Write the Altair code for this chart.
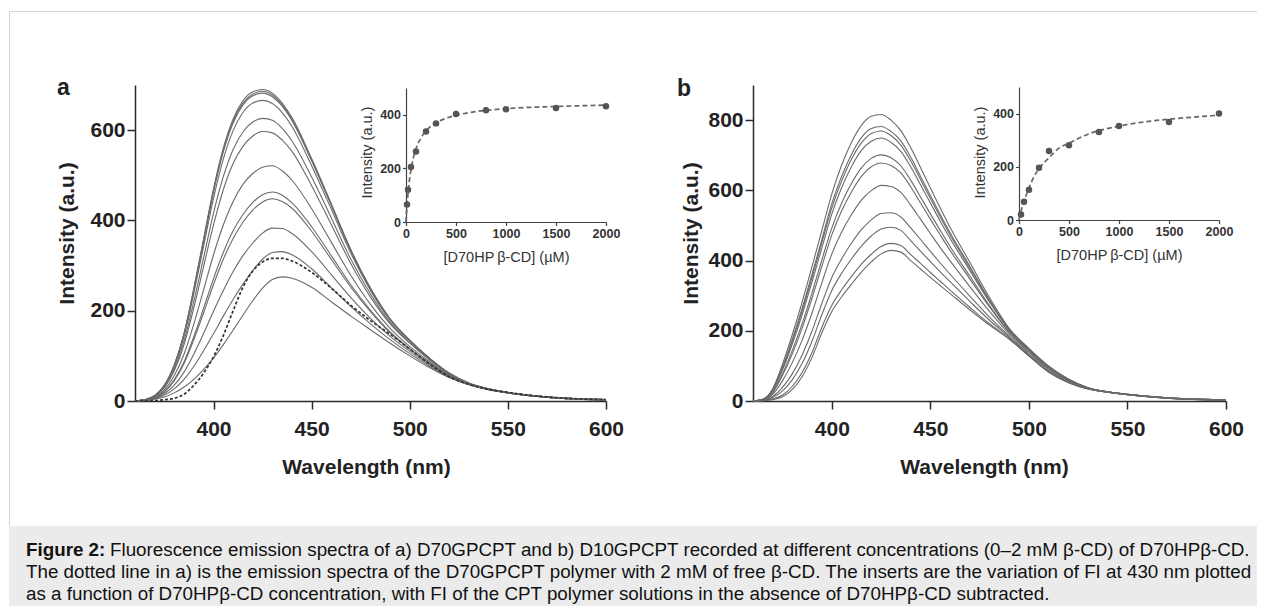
import altair as alt
import pandas as pd

FONT = "Liberation Sans"

# ---------------- panel a : emission spectra (D70GPCPT) ----------------
WL_A = [360, 365, 370, 375, 380, 385, 390, 395, 400, 405, 410, 415, 420, 425, 430,
        435, 440, 450, 460, 470, 480, 490, 500, 510, 520, 530, 540, 550, 565, 580, 600]
A_690 = [0, 3, 12, 35, 80, 150, 250, 360, 470, 560, 625, 665, 685, 690, 682, 660, 628, 537, 437, 335, 250, 182, 135, 95, 62, 40, 27, 19, 11, 6, 3]
A_686 = [0, 3, 12, 35, 79, 149, 248, 357, 466, 556, 620, 660, 680, 686, 678, 656, 624, 534, 435, 334, 249, 181, 135, 95, 62, 40, 27, 19, 11, 6, 3]
A_682 = [0, 3, 12, 35, 79, 148, 246, 354, 463, 552, 616, 656, 676, 682, 674, 653, 621, 532, 433, 332, 248, 181, 134, 95, 62, 40, 27, 19, 11, 6, 3]
A_667 = [0, 3, 12, 34, 77, 143, 239, 344, 449, 536, 599, 639, 660, 666, 659, 639, 608, 521, 425, 327, 245, 179, 133, 94, 61, 40, 27, 19, 11, 6, 3]
A_630 = [0, 3, 11, 31, 71, 133, 221, 318, 416, 497, 557, 596, 618, 626, 622, 604, 576, 496, 406, 314, 237, 174, 130, 92, 61, 39, 27, 19, 11, 6, 3]
A_602 = [0, 3, 10, 30, 67, 125, 207, 299, 390, 468, 526, 564, 587, 597, 594, 578, 553, 477, 391, 304, 230, 171, 128, 91, 60, 39, 27, 19, 11, 6, 3]
A_528 = [0, 2, 9, 25, 56, 104, 171, 247, 324, 390, 442, 480, 504, 518, 521, 510, 489, 426, 352, 278, 214, 161, 121, 87, 58, 38, 26, 19, 11, 6, 3]
A_470 = [0, 2, 8, 21, 47, 87, 143, 206, 271, 329, 377, 413, 440, 457, 463, 456, 439, 386, 322, 257, 201, 153, 116, 84, 57, 38, 26, 18, 10, 5, 2]
A_455 = [0, 2, 7, 20, 45, 83, 136, 196, 258, 314, 360, 396, 423, 441, 448, 442, 427, 376, 314, 252, 198, 151, 115, 83, 56, 38, 26, 18, 10, 5, 2]
A_390 = [0, 2, 6, 16, 35, 64, 104, 150, 199, 245, 287, 322, 350, 372, 383, 382, 371, 331, 280, 229, 183, 143, 110, 80, 55, 37, 25, 18, 10, 5, 2]
A_335 = [0, 1, 5, 13, 27, 48, 77, 112, 149, 188, 225, 259, 289, 314, 329, 331, 324, 293, 251, 209, 171, 136, 105, 77, 53, 37, 25, 18, 10, 5, 2]
A_275 = [0, 1, 4, 9, 18, 31, 48, 70, 95, 125, 157, 190, 222, 250, 269, 275, 272, 252, 220, 188, 158, 128, 100, 74, 52, 36, 25, 18, 10, 5, 2]
A_FREE_CD = [0, 0, 1, 3, 6, 15, 35, 62, 98, 145, 200, 252, 288, 308, 316, 316, 310, 285, 250, 212, 178, 148, 115, 82, 54, 37, 26, 19, 11, 6, 3]

# ---------------- panel b : emission spectra (D10GPCPT) ----------------
WL_B = [360, 365, 370, 375, 380, 385, 390, 395, 400, 405, 410, 415, 420, 425, 430, 435,
        440, 445, 450, 455, 460, 470, 480, 490, 500, 510, 520, 530, 540, 550, 565, 580, 600]
B_817 = [0, 5, 35, 105, 190, 283, 384, 487, 590, 672, 737, 785, 811, 816, 800, 770, 722, 665, 607, 550, 495, 395, 295, 207, 150, 100, 63, 38, 26, 19, 11, 6, 3]
B_784 = [0, 5, 32, 97, 177, 265, 362, 462, 562, 640, 703, 750, 776, 782, 768, 741, 695, 640, 585, 531, 479, 384, 288, 204, 148, 98, 62, 38, 26, 19, 11, 6, 3]
B_771 = [0, 5, 31, 94, 171, 258, 353, 452, 550, 627, 689, 735, 762, 769, 756, 729, 684, 631, 577, 524, 473, 379, 286, 203, 147, 98, 62, 38, 26, 19, 11, 6, 3]
B_751 = [0, 4, 30, 89, 163, 247, 340, 437, 533, 608, 668, 714, 740, 749, 737, 711, 667, 616, 564, 512, 463, 372, 282, 202, 146, 97, 61, 37, 26, 19, 11, 6, 3]
B_705 = [0, 4, 26, 78, 145, 221, 309, 403, 493, 564, 620, 664, 691, 701, 693, 670, 629, 581, 533, 486, 440, 356, 272, 198, 144, 95, 60, 37, 26, 19, 11, 6, 3]
B_682 = [0, 4, 24, 73, 135, 209, 294, 385, 473, 542, 596, 640, 667, 678, 671, 650, 610, 564, 518, 473, 429, 348, 268, 196, 142, 94, 59, 37, 26, 19, 11, 6, 3]
B_619 = [0, 3, 19, 58, 110, 174, 252, 338, 419, 481, 531, 572, 599, 614, 611, 594, 558, 518, 477, 437, 399, 326, 255, 191, 139, 91, 57, 36, 25, 18, 10, 5, 2]
B_541 = [0, 2, 13, 39, 78, 132, 200, 279, 352, 405, 450, 488, 516, 534, 536, 524, 493, 460, 426, 393, 361, 299, 239, 185, 134, 87, 55, 35, 25, 18, 10, 5, 2]
B_498 = [0, 2, 10, 29, 61, 108, 171, 247, 315, 364, 405, 441, 470, 490, 495, 486, 457, 427, 397, 368, 340, 284, 230, 182, 132, 85, 54, 35, 25, 18, 10, 5, 2]
B_450 = [0, 1, 6, 17, 42, 82, 139, 211, 273, 317, 355, 390, 418, 440, 449, 443, 417, 392, 366, 341, 316, 267, 220, 178, 129, 83, 53, 34, 25, 18, 10, 5, 2]
B_429 = [0, 1, 4, 12, 33, 70, 125, 195, 255, 297, 333, 367, 396, 419, 429, 424, 400, 376, 352, 329, 306, 260, 216, 176, 128, 82, 52, 34, 25, 18, 10, 5, 2]

# ---------------- insets : FI at 430 nm vs [D70HPb-CD] ----------------
INSET_A_CONC = [10, 20, 50, 100, 200, 300, 500, 800, 1000, 1500, 2000]
INSET_A_FI = [65, 120, 205, 263, 338, 368, 403, 417, 421, 425, 432]
INSET_A_FIT_CONC = [0, 10, 25, 50, 75, 100, 150, 200, 300, 400, 500, 700, 1000, 1500, 2000]
INSET_A_FIT_FI = [0, 60, 125, 196, 241, 273, 314, 340, 370, 387, 398, 412, 423, 431, 436]

INSET_B_CONC = [20, 50, 100, 200, 300, 500, 800, 1000, 1500, 2000]
INSET_B_FI = [21, 69, 114, 196, 259, 281, 331, 353, 368, 400]
INSET_B_FIT_CONC = [0, 20, 50, 100, 150, 200, 300, 400, 500, 700, 1000, 1300, 1500, 1750, 2000]
INSET_B_FIT_FI = [0, 32, 70, 120, 163, 193, 234, 270, 289, 324, 353, 371, 379, 387, 394]

CAPTION_BOLD = "Figure 2:"
CAPTION_1 = ("Fluorescence emission spectra of a) D70GPCPT and b) D10GPCPT recorded at different "
             "concentrations (0\u20132 mM \u03b2-CD) of D70HP\u03b2-CD.")
CAPTION_2 = ("The dotted line in a) is the emission spectra of the D70GPCPT polymer with 2 mM of free "
             "\u03b2-CD. The inserts are the variation of FI at 430 nm plotted")
CAPTION_3 = ("as a function of D70HP\u03b2-CD concentration, with FI of the CPT polymer solutions in the "
             "absence of D70HP\u03b2-CD subtracted.")


def long_df(wl, curves):
    rows = []
    for name, vals in curves.items():
        for w, v in zip(wl, vals):
            rows.append({"wl": w, "v": v, "curve": name})
    return pd.DataFrame(rows)


df_a = long_df(WL_A, {"690": A_690, "686": A_686, "682": A_682, "667": A_667, "630": A_630,
                      "602": A_602, "528": A_528, "470": A_470, "455": A_455, "390": A_390,
                      "335": A_335, "275": A_275})
df_a_dot = pd.DataFrame({"wl": WL_A, "v": A_FREE_CD})
df_b = long_df(WL_B, {"817": B_817, "784": B_784, "771": B_771, "751": B_751, "705": B_705,
                      "682": B_682, "619": B_619, "541": B_541, "498": B_498, "450": B_450,
                      "429": B_429})
df_ia = pd.DataFrame({"c": INSET_A_CONC, "i": INSET_A_FI})
df_ia_fit = pd.DataFrame({"c": INSET_A_FIT_CONC, "i": INSET_A_FIT_FI})
df_ib = pd.DataFrame({"c": INSET_B_CONC, "i": INSET_B_FI})
df_ib_fit = pd.DataFrame({"c": INSET_B_FIT_CONC, "i": INSET_B_FIT_FI})
ONE = pd.DataFrame({"k": [0]})

W, H = 1249, 598
AX = "#2b2b2b"


def main_panel(df, df_dot, xr, yr, ymax, yvals, xtitle_x, ytitle_x):
    xs = alt.Scale(domain=[360, 600], range=xr, nice=False, zero=False)
    ys = alt.Scale(domain=[0, ymax], range=yr, nice=False, zero=False)
    xaxis = alt.Axis(orient="bottom", offset=yr[0] - H, values=[400, 450, 500, 550, 600], format="d",
                     title="Wavelength (nm)", titleFont=FONT, titleFontSize=21, titleFontWeight="bold",
                     titleColor="#222", titleX=xtitle_x, titleY=72, titleBaseline="alphabetic",
                     labelFont=FONT, labelFontSize=21, labelFontWeight="bold", labelColor="#222",
                     labelPadding=9, labelFlush=False, labelOverlap=False,
                     tickSize=8, tickWidth=1.5, tickColor=AX, domainColor=AX, domainWidth=1.5, grid=False)
    yaxis = alt.Axis(orient="left", offset=-xr[0], values=yvals, format="d",
                     title="Intensity (a.u.)", titleFont=FONT, titleFontSize=21, titleFontWeight="bold",
                     titleColor="#222", titleX=ytitle_x, titleY=225, titleBaseline="alphabetic",
                     titleAngle=270,
                     labelFont=FONT, labelFontSize=21, labelFontWeight="bold", labelColor="#222",
                     labelPadding=2, labelOverlap=False,
                     tickSize=8, tickWidth=1.5, tickColor=AX, domainColor=AX, domainWidth=1.5, grid=False)
    lines = alt.Chart(df).mark_line(interpolate="monotone", color="#6a6a6a", strokeWidth=1.1).encode(
        x=alt.X("wl:Q", scale=xs, axis=xaxis),
        y=alt.Y("v:Q", scale=ys, axis=yaxis),
        detail="curve:N",
    )
    layers = [lines]
    if df_dot is not None:
        dot = alt.Chart(df_dot).mark_line(interpolate="monotone", color="#333", strokeWidth=1.7,
                                          strokeDash=[3, 2]).encode(
            x=alt.X("wl:Q", scale=xs, axis=xaxis),
            y=alt.Y("v:Q", scale=ys, axis=yaxis),
        )
        layers.append(dot)
    return alt.layer(*layers)


def inset(df_pts, df_fit, xr, yr):
    xs = alt.Scale(domain=[0, 2000], range=xr, nice=False, zero=False)
    ys = alt.Scale(domain=[0, 500], range=yr, nice=False, zero=False)
    xaxis = alt.Axis(orient="bottom", offset=yr[0] - H, values=[0, 500, 1000, 1500, 2000], format="d",
                     title="[D70HP\u2009\u03b2-CD] (\u00b5M)", titleFont=FONT, titleFontSize=14.5,
                     titleFontWeight="normal", titleColor="#333", titleY=39, titleBaseline="alphabetic",
                     labelFont=FONT, labelFontSize=12.5, labelFontWeight="bold", labelColor="#333",
                     labelPadding=2, labelFlush=False, labelOverlap=False,
                     tickSize=3.5, tickWidth=1.2, tickColor="#444", domainColor="#444", domainWidth=1.2,
                     grid=False)
    yaxis = alt.Axis(orient="left", offset=-xr[0], values=[0, 200, 400], format="d",
                     title="Intensity (a.u.)", titleFont=FONT, titleFontSize=14.5, titleFontWeight="normal",
                     titleColor="#333", titleX=-35, titleY=144, titleBaseline="alphabetic", titleAngle=270,
                     labelFont=FONT, labelFontSize=12.5, labelFontWeight="bold", labelColor="#333",
                     labelPadding=2, labelOverlap=False,
                     tickSize=3.5, tickWidth=1.2, tickColor="#444", domainColor="#444", domainWidth=1.2,
                     grid=False)
    fit = alt.Chart(df_fit).mark_line(interpolate="monotone", color="#666", strokeWidth=1.7,
                                      strokeDash=[5, 3]).encode(
        x=alt.X("c:Q", scale=xs, axis=xaxis),
        y=alt.Y("i:Q", scale=ys, axis=yaxis),
    )
    pts = alt.Chart(df_pts).mark_circle(size=42, color="#555", opacity=1).encode(
        x=alt.X("c:Q", scale=xs, axis=xaxis),
        y=alt.Y("i:Q", scale=ys, axis=yaxis),
    )
    return alt.layer(fit, pts)


panel_a = main_panel(df_a, df_a_dot, [127, 598], [393, 77], 700, [0, 200, 400, 600], 358, -62)
panel_b = main_panel(df_b, None, [745, 1218], [393, 77], 900, [0, 200, 400, 600, 800], 976, -56)
inset_a = inset(df_ia, df_ia_fit, [398, 598], [214, 80])
inset_b = inset(df_ib, df_ib_fit, [1011, 1211], [212, 79])

frame_top = alt.Chart(ONE).mark_rule(color="#d4d4d4", strokeWidth=1).encode(
    x=alt.value(1.5), x2=alt.value(W), y=alt.value(3.5))
frame_left = alt.Chart(ONE).mark_rule(color="#d4d4d4", strokeWidth=1).encode(
    x=alt.value(1.5), y=alt.value(3.5), y2=alt.value(H))
caption_bg = alt.Chart(ONE).mark_rect(color="#ebebeb").encode(
    x=alt.value(1), x2=alt.value(W), y=alt.value(518), y2=alt.value(H))


def text_layer(txt, x, y, size, weight="normal", color="#222"):
    return alt.Chart(ONE).mark_text(align="left", baseline="alphabetic", font=FONT, fontSize=size,
                                    fontWeight=weight, color=color).encode(
        x=alt.value(x), y=alt.value(y), text=alt.value(txt))


label_a = text_layer("a", 49, 87, 23, "bold")
label_b = text_layer("b", 669, 88, 23, "bold")
cap_b = text_layer(CAPTION_BOLD, 18, 548, 18.8, "bold", "#111")
cap_1 = text_layer(CAPTION_1, 102, 548, 18.8, "normal", "#111")
cap_2 = text_layer(CAPTION_2, 18, 570, 18.8, "normal", "#111")
cap_3 = text_layer(CAPTION_3, 18, 592, 18.8, "normal", "#111")

chart = alt.layer(
    frame_top, frame_left, caption_bg,
    panel_a, inset_a, panel_b, inset_b,
    label_a, label_b, cap_b, cap_1, cap_2, cap_3,
).resolve_scale(x="independent", y="independent").properties(
    width=W, height=H, padding=0, autosize=alt.AutoSizeParams(type="none"),
    background="white",
).configure_view(stroke=None)

chart.save("out.html", embed_options={"renderer": "svg", "actions": False})
